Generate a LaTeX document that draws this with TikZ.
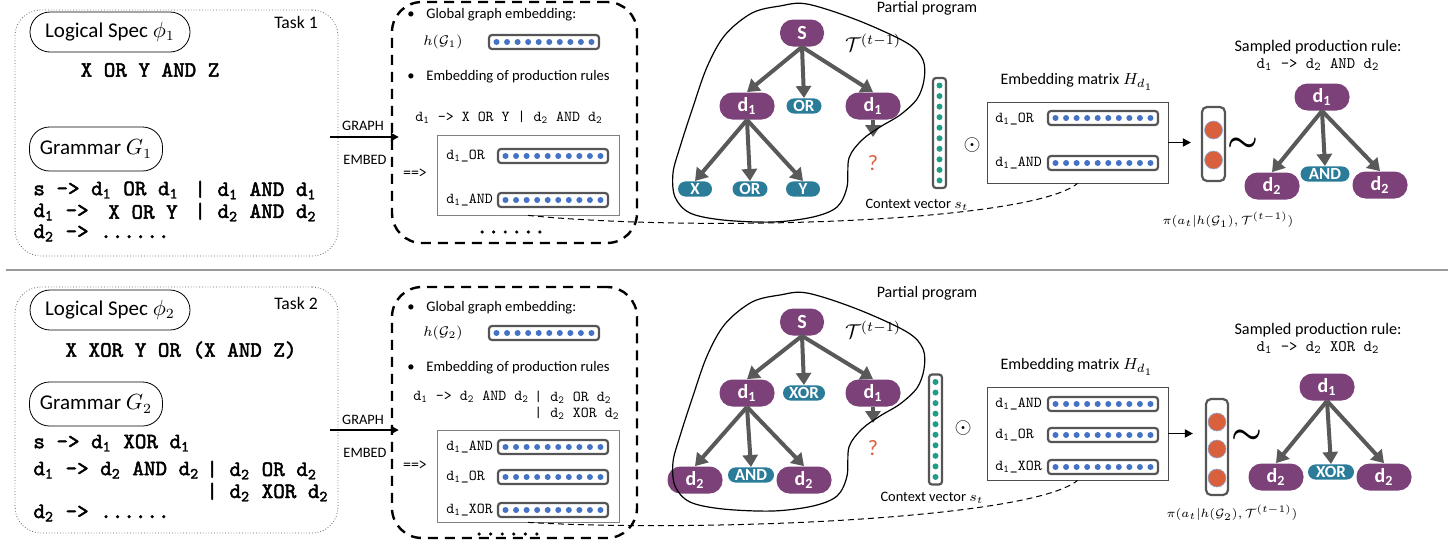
\documentclass[tikz,border=0pt]{standalone}
\usepackage{amsmath}
\usepackage{fontspec}
\setmainfont{Carlito}
\setmonofont{lmmono10-regular.otf}[AutoFakeBold=2.2]
\usetikzlibrary{arrows.meta,positioning,calc}

\definecolor{purplenode}{RGB}{123,65,120}
\definecolor{tealnode}{RGB}{42,124,153}
\definecolor{arrowgray}{RGB}{89,89,89}
\definecolor{vecgray}{RGB}{85,85,85}
\definecolor{dotblue}{RGB}{68,114,196}
\definecolor{dotteal}{RGB}{30,158,135}
\definecolor{probred}{RGB}{217,96,60}

\newcommand\fsz[1]{\fontsize{#1}{#1}\selectfont}
\newcommand\dsub[1]{d\textsubscript{#1}}

\tikzset{
  hvec/.pic={
    \draw[line width=1.1pt, draw=vecgray, fill=white, rounded corners=1.5pt] (-55,-7) rectangle (55,7);
    \foreach \i in {0,...,9}
      \fill[dotblue] ({-47.5+\i*10.55},0) circle (1.5pt);
  },
  vvec/.pic={
    \draw[line width=1.1pt, draw=vecgray, fill=white, rounded corners=1.5pt] (-6.5,-55) rectangle (6.5,55);
    \foreach \i in {0,...,9}
      \fill[dotteal] (0,{-47.5+\i*10.55}) circle (1.5pt);
  },
}

\begin{document}
\begin{tikzpicture}[x=0.5pt,y=-0.5pt,
    taskbox/.style={draw=black!60, densely dotted, rounded corners=13pt, inner sep=0pt},
    specbox/.style={draw, rounded corners=10pt, minimum height=20pt, inner sep=0pt, font=\fsz{10.5}},
    dashbox/.style={draw, line width=1.2pt, dash pattern=on 5pt off 3.5pt, rounded corners=15pt, inner sep=0pt},
    innerbox/.style={draw=black!50, inner sep=0pt},
    matbox/.style={draw=black!70, inner sep=0pt},
    gramtxt/.style={font=\ttfamily\bfseries\fsz{11}, inner sep=0pt, anchor=west},
    monosm/.style={font=\ttfamily\fsz{7.6}, inner sep=0pt},
    bodytxt/.style={font=\fsz{7.3}, inner sep=0pt},
    ntnode/.style={fill=purplenode, text=white, rounded corners=6.5pt, minimum width=27.5pt,
      minimum height=13.5pt, inner sep=0pt, font=\bfseries\fsz{10}},
    tnode/.style={fill=tealnode, text=white, rounded corners=3.8pt, minimum width=17.5pt,
      minimum height=7.6pt, inner sep=0pt, font=\bfseries\fsz{8.5}},
    treearrow/.style={draw=arrowgray, line width=2pt, -{Triangle[length=6pt,width=7.5pt]}},
    flowarrow/.style={line width=0.9pt, -{Triangle[length=4pt,width=4pt]}},
    linkline/.style={dash pattern=on 3pt off 2pt, line width=0.5pt},
    blobline/.style={line width=0.6pt},
    probvec/.style={draw=vecgray, line width=1.1pt, rounded corners=2.5pt, inner sep=0pt},
    probdot/.style={fill=probred, draw=dotblue!60, line width=0.3pt},
  ]
  \useasboundingbox (0,0) rectangle (1454,552);

  % ---------- task 1 ----------
  \node[taskbox, minimum width=161.5pt, minimum height=123pt] (task1) at (176.5,133) {};
  \node[font=\fsz{8.8}] (tl1) at (296,22) {Task 1};
  \node[specbox, minimum width=80pt] (spec1) at (110,32) {Logical Spec $\phi_1$};
  \node[gramtxt, anchor=center] (ex1) at (150,70) {X OR Y AND Z};
  \node[specbox, minimum width=66.5pt, minimum height=22pt] (gram1) at (96,149) {Grammar $G_1$};
  \node[gramtxt] (r1a) at (33,190) {s -> \dsub1 OR \dsub1};
  \node[gramtxt] (r1b) at (194,190) {| \dsub1 AND \dsub1};
  \node[gramtxt] (r1c) at (33,212) {\dsub1 ->};
  \node[gramtxt] (r1x) at (108,212) {X OR Y};
  \node[gramtxt] (r1d) at (194,212) {| \dsub2 AND \dsub2};
  \node[gramtxt] (r1e) at (33,233) {\dsub2 -> ......};

  \node[dashbox, minimum width=122.5pt, minimum height=120.5pt] (dash1) at (514.5,122.5) {};
  \coordinate (ga1) at (0,137);
  \draw[flowarrow, shorten <=-4pt, shorten >=-4pt] (task1.east |- ga1) -- (dash1.west |- ga1);
  \node[font=\fsz{7.2}] (gr1) at (363,126) {GRAPH};
  \node[font=\fsz{7.2}] (em1) at (365,160) {EMBED};

  \node[bodytxt] at (411,15) {•};
  \node[bodytxt, anchor=west] (ge1) at (426,15) {Global graph embedding:};
  \node[font=\fsz{7.5}] (h1) at (443,42) {$h(\mathcal{G}_1)$};
  \pic at (544,42) {hvec};
  \node[bodytxt] at (411,77) {•};
  \node[bodytxt, anchor=west] (pe1) at (426,77) {Embedding of production rules};
  \node[monosm] (pr1) at (509,117) {\dsub1 -> X OR Y | \dsub2 AND \dsub2};
  \node[innerbox, minimum width=91pt, minimum height=40pt] (inner1) at (528,175) {};
  \node[monosm, anchor=west] at (446,156) {\dsub1\_OR};
  \pic at (553,156) {hvec};
  \node[monosm, anchor=west] at (446,200) {\dsub1\_AND};
  \pic at (553,200) {hvec};
  \node[monosm] at (415,173) {==>};
  \node[gramtxt, anchor=center] at (511,232) {......};

  % partial program 1
  \node[font=\fsz{8}] (pp1) at (927,8) {Partial program};
  \node[font=\fsz{10}] (tt1) at (873,43) {$\mathcal{T}^{(t-1)}$};
  \node[ntnode, minimum width=22pt] (s1) at (802,33) {S};
  \node[ntnode] (a1) at (747,106) {\dsub1};
  \node[tnode] (o1) at (804,106) {OR};
  \node[ntnode] (b1) at (873,106) {\dsub1};
  \node[tnode, minimum width=17pt] (x1) at (695,189) {X};
  \node[tnode] (c1) at (750,189) {OR};
  \node[tnode, minimum width=17pt] (y1) at (803,189) {Y};
  \coordinate (q1) at (873,137);
  \node[text=probred, font=\fsz{11}] (qm1) at (873,163) {?};
  \draw[treearrow] (s1.south) -- (a1.north);
  \draw[treearrow] (s1.south) -- (o1.north);
  \draw[treearrow] (s1.south) -- (b1.north);
  \draw[treearrow] (a1.south) -- (x1.north);
  \draw[treearrow] (a1.south) -- (c1.north);
  \draw[treearrow] (a1.south) -- (y1.north);
  \draw[treearrow] (b1.south) -- (q1);

  \pic at (939.5,133) {vvec};
  \node[font=\fsz{7.2}] (cv1) at (917,205) {Context vector $s_t$};
  \node[font=\fsz{11}] (od1) at (972,145) {$\odot$};

  \node[font=\fsz{8}] (ml1) at (1077,82) {Embedding matrix $H_{d_1}$};
  \node[matbox, minimum width=90.5pt, minimum height=40.5pt] (mat1) at (1077.5,142.5) {};
  \node[monosm, anchor=west] at (995,119) {\dsub1\_OR};
  \pic at (1103,118) {hvec};
  \node[monosm, anchor=west] at (995,163) {\dsub1\_AND};
  \pic at (1103,163) {hvec};

  \node[probvec, minimum width=11.5pt, minimum height=37pt] (pv1) at (1213.5,144) {};
  \foreach \cy in {130,160}
    \draw[probdot] (1213.5,\cy) circle (4.5pt);
  \draw[flowarrow, shorten >=5pt] (mat1.east) -- (pv1.west |- mat1.east);
  \node[font=\fsz{18}] (sim1) at (1243,145) {$\boldsymbol{\sim}$};
  \node[font=\fsz{6.5}] (pi1) at (1228,220) {$\pi(a_t|h(\mathcal{G}_1),\mathcal{T}^{(t-1)})$};

  \node[font=\fsz{8.1}] (sp1) at (1318,47) {Sampled production rule:};
  \node[monosm, font=\ttfamily\fsz{8}] (sr1) at (1318,65) {\dsub1 -> \dsub2 AND \dsub2};
  \node[ntnode] (rt1) at (1322,97) {\dsub1};
  \node[ntnode] (rl1) at (1272,186) {\dsub2};
  \node[tnode, minimum width=24.5pt] (rm1) at (1325,174) {AND};
  \node[ntnode] (rr1) at (1380,185) {\dsub2};
  \draw[treearrow] (rt1.south) -- (rl1.north);
  \draw[treearrow] (rt1.south) -- (rm1.north);
  \draw[treearrow] (rt1.south) -- (rr1.north);

  \draw[linkline] (inner1.south) .. controls +(172,17) and +(-47,39) .. (mat1.south);

  % separator
  \draw[black!40, line width=0.6pt] (6,270) -- (1448,270);

  % ---------- task 2 ----------
  \node[taskbox, minimum width=161.5pt, minimum height=123pt] (task2) at (176.5,410) {};
  \node[font=\fsz{8.8}] (tl2) at (296,303) {Task 2};
  \node[specbox, minimum width=80pt] (spec2) at (110,310) {Logical Spec $\phi_2$};
  \node[gramtxt, anchor=center] (ex2) at (181,350) {X XOR Y OR (X AND Z)};
  \node[specbox, minimum width=66.5pt, minimum height=22pt] (gram2) at (96,404) {Grammar $G_2$};
  \node[gramtxt] (r2a) at (33,443) {s -> \dsub1 XOR \dsub1};
  \node[gramtxt] (r2c) at (33,470) {\dsub1 -> \dsub2 AND \dsub2};
  \node[gramtxt] (r2d) at (206,470) {| \dsub2 OR \dsub2};
  \node[gramtxt] (r2f) at (206,492) {| \dsub2 XOR \dsub2};
  \node[gramtxt] (r2e) at (33,513) {\dsub2 -> ......};

  \node[dashbox, minimum width=122.5pt, minimum height=125.5pt] (dash2) at (514.5,412.5) {};
  \coordinate (ga2) at (0,430);
  \draw[flowarrow, shorten <=-4pt, shorten >=-4pt] (task2.east |- ga2) -- (dash2.west |- ga2);
  \node[font=\fsz{7.2}] (gr2) at (363,420) {GRAPH};
  \node[font=\fsz{7.2}] (em2) at (365,453) {EMBED};

  \node[bodytxt] at (411,308) {•};
  \node[bodytxt, anchor=west] (ge2) at (426,308) {Global graph embedding:};
  \node[font=\fsz{7.5}] (h2) at (443,333) {$h(\mathcal{G}_2)$};
  \pic at (544,333) {hvec};
  \node[bodytxt] at (411,368) {•};
  \node[bodytxt, anchor=west] (pe2) at (426,368) {Embedding of production rules};
  \node[monosm, anchor=west] (pr2) at (413,397) {\dsub1 -> \dsub2 AND \dsub2};
  \node[monosm, anchor=west] (pr2b) at (534,397) {| \dsub2 OR \dsub2};
  \node[monosm, anchor=west] (pr2c) at (534,413) {| \dsub2 XOR \dsub2};
  \node[innerbox, minimum width=91pt, minimum height=46pt] (inner2) at (528,476) {};
  \node[monosm, anchor=west] at (446,447) {\dsub1\_AND};
  \pic at (553,447) {hvec};
  \node[monosm, anchor=west] at (446,477) {\dsub1\_OR};
  \pic at (553,477) {hvec};
  \node[monosm, anchor=west] at (446,510) {\dsub1\_XOR};
  \pic at (553,510) {hvec};
  \node[monosm] at (415,465) {==>};
  \node[gramtxt, anchor=center] at (508,534) {......};

  % partial program 2
  \node[font=\fsz{8}] (pp2) at (927,293) {Partial program};
  \node[font=\fsz{10}] (tt2) at (873,330) {$\mathcal{T}^{(t-1)}$};
  \node[ntnode, minimum width=22pt] (s2) at (802,322) {S};
  \node[ntnode] (a2) at (747,393) {\dsub1};
  \node[tnode, minimum width=21pt] (o2) at (804,393) {XOR};
  \node[ntnode] (b2) at (873,393) {\dsub1};
  \node[ntnode] (x2) at (695,480) {\dsub2};
  \node[tnode, minimum width=23pt] (c2) at (751,475) {AND};
  \node[ntnode] (y2) at (804,480) {\dsub2};
  \coordinate (q2) at (873,423);
  \node[text=probred, font=\fsz{11}] (qm2) at (873,448) {?};
  \draw[treearrow] (s2.south) -- (a2.north);
  \draw[treearrow] (s2.south) -- (o2.north);
  \draw[treearrow] (s2.south) -- (b2.north);
  \draw[treearrow] (a2.south) -- (x2.north);
  \draw[treearrow] (a2.south) -- (c2.north);
  \draw[treearrow] (a2.south) -- (y2.north);
  \draw[treearrow] (b2.south) -- (q2);

  \foreach \dy in {0,289}
    \draw[blobline, shift={(0,\dy)}] plot[smooth cycle, tension=0.55] coordinates {
      (807,4) (857,20) (907,43) (923,60) (924,80) (917,99) (900,115) (880,127)
      (862,140) (849,158) (847,187) (837,207) (813,217) (773,222) (723,220)
      (690,213) (675,197) (673,173) (680,147) (692,110) (707,67) (725,35) (752,13) (780,6)};

  \pic at (935.5,429.5) {vvec};
  \node[font=\fsz{7.2}] (cv2) at (932,498) {Context vector $s_t$};
  \node[font=\fsz{11}] (od2) at (963,428) {$\odot$};

  \node[font=\fsz{8}] (ml2) at (1077,367) {Embedding matrix $H_{d_1}$};
  \node[matbox, minimum width=90.5pt, minimum height=46.5pt] (mat2) at (1077.5,433.5) {};
  \node[monosm, anchor=west] at (995,404) {\dsub1\_AND};
  \pic at (1103,404) {hvec};
  \node[monosm, anchor=west] at (995,435) {\dsub1\_OR};
  \pic at (1103,435) {hvec};
  \node[monosm, anchor=west] at (995,467) {\dsub1\_XOR};
  \pic at (1103,467) {hvec};

  \node[probvec, minimum width=11pt, minimum height=48pt] (pv2) at (1217,447) {};
  \foreach \cy in {422,449,478}
    \draw[probdot] (1217,\cy) circle (4.5pt);
  \draw[flowarrow, shorten >=6pt] (mat2.east) -- (pv2.west |- mat2.east);
  \node[font=\fsz{18}] (sim2) at (1247,437) {$\boldsymbol{\sim}$};
  \node[font=\fsz{6.5}] (pi2) at (1232,513) {$\pi(a_t|h(\mathcal{G}_2),\mathcal{T}^{(t-1)})$};

  \node[font=\fsz{8.1}] (sp2) at (1318,330) {Sampled production rule:};
  \node[monosm, font=\ttfamily\fsz{8}] (sr2) at (1318,348) {\dsub1 -> \dsub2 XOR \dsub2};
  \node[ntnode] (rt2) at (1327,387) {\dsub1};
  \node[ntnode] (rl2) at (1276,477) {\dsub2};
  \node[tnode, minimum width=23pt] (rm2) at (1331,472) {XOR};
  \node[ntnode] (rr2) at (1384,477) {\dsub2};
  \draw[treearrow] (rt2.south) -- (rl2.north);
  \draw[treearrow] (rt2.south) -- (rm2.north);
  \draw[treearrow] (rt2.south) -- (rr2.north);

  \draw[linkline] (inner2.south) .. controls +(172,10) and +(-47,39) .. (mat2.south);
\end{tikzpicture}
\end{document}
